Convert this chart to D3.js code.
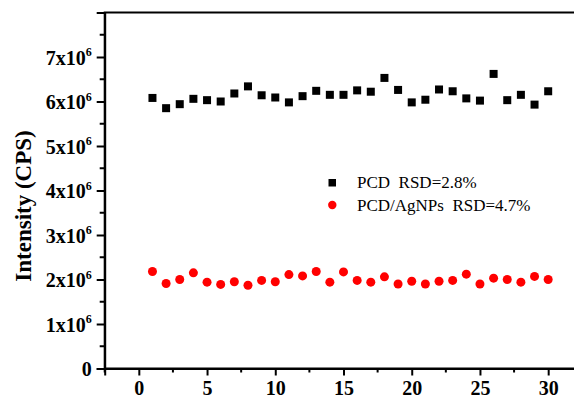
<!DOCTYPE html>
<html><head><meta charset="utf-8">
<script src="https://cdn.jsdelivr.net/npm/d3@7"></script>
<style>body{margin:0;background:#fff}svg{display:block}
text{font-family:"Liberation Serif","Times New Roman",Times,serif}</style>
</head><body>
<script>
const runs = d3.range(1, 31);
const pcd = [6.08,5.85,5.94,6.06,6.03,6.00,6.18,6.34,6.14,6.09,5.98,6.12,6.24,6.15,6.15,
             6.25,6.22,6.53,6.26,5.98,6.04,6.27,6.23,6.07,6.02,6.62,6.03,6.15,5.93,6.23];
const pcdAg = [2.18,1.91,2.00,2.15,1.94,1.89,1.95,1.87,1.98,1.95,2.11,2.08,2.18,1.94,2.17,
               1.98,1.94,2.06,1.90,1.96,1.90,1.96,1.98,2.12,1.90,2.03,2.00,1.94,2.07,2.00];
const yTicks = [0,1,2,3,4,5,6,7];
const xTicks = [0,5,10,15,20,25,30];
const legendLabels = ["PCD  RSD=2.8%", "PCD/AgNPs  RSD=4.7%"];

const W = 574, H = 398;
const svg = d3.select("body").append("svg").attr("width", W).attr("height", H);
const x = d3.scaleLinear().domain([-2.5, 32.5]).range([104.7, 582.3]);
const y = d3.scaleLinear().domain([0, 8e6]).range([368.5, 12.5]);
const serif = '"Liberation Serif","Times New Roman",Times,serif';

// frame
svg.append("rect").attr("x", x(-2.5)).attr("y", y(8e6))
  .attr("width", x(32.5) - x(-2.5)).attr("height", y(0) - y(8e6))
  .attr("fill", "none").attr("stroke", "#000").attr("stroke-width", 2);

// minor ticks
const yMinor = d3.range(0.5, 8, 1);
svg.append("g").selectAll("line").data(yMinor).join("line")
  .attr("x1", x(-2.5)).attr("x2", x(-2.5) - 5)
  .attr("y1", d => y(d * 1e6)).attr("y2", d => y(d * 1e6))
  .attr("stroke", "#000").attr("stroke-width", 2);
const xMinor = d3.range(-2.5, 33, 5);
svg.append("g").selectAll("line").data(xMinor).join("line")
  .attr("x1", d => x(d)).attr("x2", d => x(d))
  .attr("y1", y(0)).attr("y2", y(0) + 4)
  .attr("stroke", "#000").attr("stroke-width", 2);

// y axis
const gy = svg.append("g").attr("transform", `translate(${x(-2.5)},0)`)
  .call(d3.axisLeft(y).tickValues(yTicks.map(d => d * 1e6)).tickSize(8).tickPadding(6).tickFormat(""))
  .attr("font-family", serif);
gy.select(".domain").attr("stroke-width", 2);
gy.selectAll(".tick line").attr("stroke-width", 2);
gy.selectAll(".tick").each(function(d) {
  const t = d3.select(this).append("text").attr("x", -13).attr("dy", "0.36em")
    .attr("text-anchor", "end").attr("fill", "#000")
    .attr("font-family", serif).attr("font-weight", "bold").attr("font-size", "20px");
  const v = d / 1e6;
  if (v === 0) { t.text("0"); }
  else {
    t.append("tspan").text(v + "x10");
    t.append("tspan").attr("dy", "-0.7em").attr("font-size", "12px").text("6");
  }
});

// x axis
const gx = svg.append("g").attr("transform", `translate(0,${y(0)})`)
  .call(d3.axisBottom(x).tickValues(xTicks).tickSize(7).tickPadding(5))
  .attr("font-family", serif);
gx.select(".domain").attr("stroke-width", 2);
gx.selectAll(".tick line").attr("stroke-width", 2);
gx.selectAll(".tick text").attr("fill", "#000")
  .attr("font-family", serif).attr("font-weight", "bold").attr("font-size", "20px");

// y title
svg.append("text").attr("transform", `translate(31,${206}) rotate(-90)`)
  .attr("text-anchor", "middle").attr("fill", "#000")
  .attr("font-family", serif).attr("font-weight", "bold").attr("font-size", "23px")
  .text("Intensity (CPS)");

// data
svg.append("g").selectAll("rect").data(runs).join("rect")
  .attr("x", (d) => x(d) - 4).attr("y", (d, i) => y(pcd[i] * 1e6) - 4)
  .attr("width", 8).attr("height", 8).attr("fill", "#000");
svg.append("g").selectAll("circle").data(runs).join("circle")
  .attr("cx", d => x(d)).attr("cy", (d, i) => y(pcdAg[i] * 1e6))
  .attr("r", 4.5).attr("fill", "#ff0000");

// legend
const lg = svg.append("g");
lg.append("rect").attr("x", 328.5).attr("y", 179).attr("width", 7.5).attr("height", 7.5).attr("fill", "#000");
lg.append("circle").attr("cx", 332.3).attr("cy", 205).attr("r", 4.2).attr("fill", "#ff0000");
lg.selectAll("text").data(legendLabels).join("text")
  .attr("x", 357).attr("y", (d, i) => 188 + i * 22.5).attr("fill", "#000")
  .attr("font-family", serif).attr("font-size", "17px")
  .attr("xml:space", "preserve").style("white-space", "pre")
  .text(d => d);
</script>
</body></html>
